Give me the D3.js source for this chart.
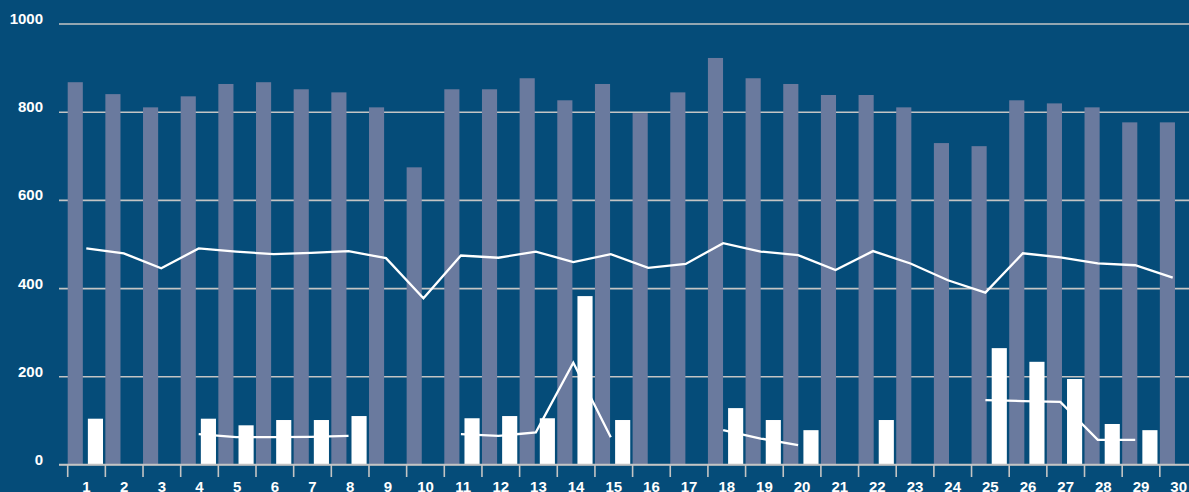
<!DOCTYPE html>
<html>
<head>
  <meta charset="UTF-8">
  <style>
    html, body { margin: 0; padding: 0; background: #054c79; overflow: hidden; }
    svg { display: block; }
    text { font-family: "Liberation Sans", Arial, Helvetica, sans-serif; font-weight: bold; fill: #fff; }
  </style>
</head>
<body>
<svg></svg>
<script src="https://d3js.org/d3.v7.min.js"></script>
<script>

let width = 1189, height = 492;

// data
let days = d3.range(1, 31).map(String);
let totals = [868, 841, 811, 836, 864, 868, 852, 845, 811, 675,
              852, 852, 877, 827, 864, 798, 845, 923, 877, 864,
              839, 839, 811, 730, 723, 827, 820, 811, 777, 777];
let subs = [105, null, null, 105, 90, 102, 102, 111, null, null,
            106, 111, 106, 383, 102, null, null, 129, 102, 79,
            null, 102, null, null, 265, 234, 195, 93, 79, null];
let avgTotal = [491, 480, 446, 491, 484, 478, 481, 485, 469, 378,
                475, 470, 484, 460, 478, 447, 456, 503, 484, 476,
                442, 485, 457, 419, 391, 480, 471, 457, 453, 425];
let avgSub = [null, null, null, 70, 63, 63, 64, 66, null, null,
              70, 66, 74, 232, 63, null, null, 79, 60, 45,
              null, null, null, null, 147, 145, 143, 57, 57, null];
let yTicks = [0, 200, 400, 600, 800, 1000];

let svg = d3.select("svg")
    .attr("width", width)
    .attr("height", height);

svg.append("rect")
    .attr("width", width)
    .attr("height", height)
    .attr("fill", "#054c79");

let x = d3.scaleBand()
    .domain(days)
    .range([67.7, 67.7 + 30 * 37.66]);

let inner = d3.scaleBand()
    .domain(["total", "sub"])
    .range([0, 35.3])
    .paddingInner(0.25);

let xLine = d3.scalePoint()
    .domain(days)
    .range([86.3, 1172.7]);

let y = d3.scaleLinear()
    .domain([0, 1000])
    .range([465, 24]);

// gridlines
svg.append("g")
    .selectAll("line")
    .data(yTicks)
    .enter()
    .append("line")
    .attr("x1", 59)
    .attr("x2", width)
    .attr("y1", d => y(d))
    .attr("y2", d => y(d))
    .attr("stroke", "#c4c4c4")
    .attr("stroke-width", 1.6);

// y labels
svg.append("g")
    .selectAll("text")
    .data(yTicks)
    .enter()
    .append("text")
    .attr("x", 43)
    .attr("y", d => y(d))
    .attr("text-anchor", "end")
    .style("font-size", "15px")
    .text(d => d);

// grey bars
svg.append("g")
    .selectAll("rect")
    .data(days)
    .enter()
    .append("rect")
    .attr("x", d => x(d) + inner("total"))
    .attr("y", (d, i) => y(totals[i]))
    .attr("width", inner.bandwidth())
    .attr("height", (d, i) => y(0) - y(totals[i]))
    .attr("fill", "#6a7a9e");

// white bars
svg.append("g")
    .selectAll("rect")
    .data(days.filter((d, i) => subs[i] != null))
    .enter()
    .append("rect")
    .attr("x", d => x(d) + inner("sub"))
    .attr("y", d => y(subs[days.indexOf(d)]))
    .attr("width", inner.bandwidth())
    .attr("height", d => y(0) - y(subs[days.indexOf(d)]))
    .attr("fill", "#ffffff");

// lines
let line = d3.line()
    .defined(d => d.v != null)
    .x(d => xLine(d.day))
    .y(d => y(d.v));

[avgTotal, avgSub].forEach(series => {
  svg.append("path")
    .datum(days.map((d, i) => ({day: d, v: series[i]})))
    .attr("fill", "none")
    .attr("stroke", "#ffffff")
    .attr("stroke-width", 2.3)
    .attr("d", line);
});

// x axis
let axis = svg.append("g");
axis.append("line")
    .attr("x1", 59)
    .attr("x2", width)
    .attr("y1", 464.5)
    .attr("y2", 464.5)
    .attr("stroke", "#c4c4c4")
    .attr("stroke-width", 1.6);

axis.selectAll("line.tick")
    .data(days.concat(["end"]))
    .enter()
    .append("line")
    .attr("class", "tick")
    .attr("x1", d => d === "end" ? x.range()[1] : x(d))
    .attr("x2", d => d === "end" ? x.range()[1] : x(d))
    .attr("y1", 464.5)
    .attr("y2", 477)
    .attr("stroke", "#c4c4c4")
    .attr("stroke-width", 1.6);

axis.selectAll("text")
    .data(days)
    .enter()
    .append("text")
    .attr("x", d => x(d) + x.bandwidth() / 2)
    .attr("y", 492)
    .attr("text-anchor", "middle")
    .style("font-size", "15px")
    .text(d => d);

</script>
</body>
</html>
